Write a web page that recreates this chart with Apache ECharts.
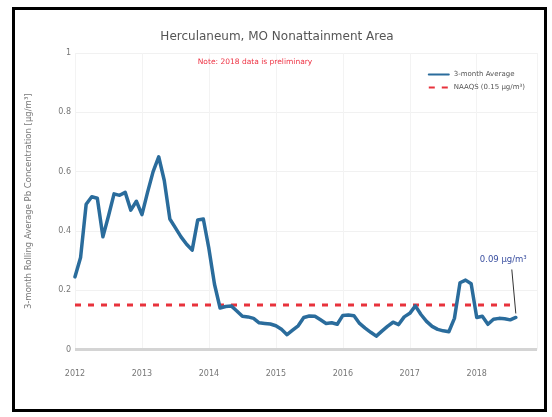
<!DOCTYPE html>
<html><head><meta charset="utf-8">
<script src="https://cdn.jsdelivr.net/npm/echarts@6/dist/echarts.min.js"></script>
<style>html,body{margin:0;padding:0;background:#fff}#c{width:552px;height:417px}</style>
</head><body><div id="c"></div>
<script>
// ---- data ----
const startYear = 2012;
const startMonth = 1; // January 2012, monthly points
const avgValues = [
  0.245,0.31,0.49,0.515,0.51,0.38,0.45,0.525,0.52,0.53,0.47,0.50,
  0.455,0.53,0.60,0.65,0.57,0.44,0.41,0.38,0.355,0.335,0.437,0.44,
  0.34,0.22,0.14,0.145,0.147,0.13,0.112,0.11,0.105,0.09,0.088,0.086,
  0.08,0.068,0.05,0.065,0.08,0.108,0.113,0.112,0.10,0.088,0.09,0.085,
  0.115,0.116,0.114,0.088,0.072,0.058,0.045,0.062,0.078,0.092,0.084,0.11,
  0.122,0.147,0.118,0.095,0.078,0.068,0.063,0.06,0.105,0.225,0.234,0.222,
  0.108,0.112,0.085,0.102,0.105,0.104,0.10,0.108
];
const naaqsValue = 0.15;
const yTicks = [0, 0.2, 0.4, 0.6, 0.8, 1];
const yearTicks = [2012, 2013, 2014, 2015, 2016, 2017, 2018];
const titleText = 'Herculaneum, MO Nonattainment Area';
const noteText = 'Note: 2018 data is preliminary';
const yName = '3-month Rolling Average Pb Concentration [\u00b5g/m\u00b3]';
const seriesNames = ['3-month Average', 'NAAQS (0.15 \u00b5g/m\u00b3)'];
const annotationText = '0.09 \u00b5g/m\u00b3';

// ---- build ----
const xs = avgValues.map((v, i) => startYear + (startMonth - 1 + i) / 12);
const avgData = avgValues.map((v, i) => [xs[i], v]);
const naaqsData = xs.map(x => [x, naaqsValue]);

const chart = echarts.init(document.getElementById('c'));
const font = 'DejaVu Sans';
chart.setOption({
  backgroundColor: '#fff',
  animation: false,
  textStyle: { fontFamily: font },
  title: [
    { text: titleText, left: 272, top: 26, textAlign: 'center',
      textStyle: { fontSize: 12, fontWeight: 'normal', color: '#555', fontFamily: font } },
    { text: noteText, left: 250, top: 53, textAlign: 'center',
      textStyle: { fontSize: 7.5, fontWeight: 'normal', color: '#ee3344', fontFamily: font } }
  ],
  legend: {
    right: 22, top: 66, orient: 'vertical', itemGap: 6, itemWidth: 20, itemHeight: 4,
    textStyle: { fontSize: 7, color: '#555', fontFamily: font },
    itemStyle: { opacity: 0 },
    data: seriesNames
  },
  grid: { left: 75, right: 15, top: 53, bottom: 67.5 },
  xAxis: {
    type: 'value', min: 2012, max: 2018.9, interval: 1,
    axisLine: { show: false }, axisTick: { show: false },
    splitLine: { show: true, lineStyle: { color: '#f3f3f3', width: 1 } },
    axisLabel: { fontSize: 8, color: '#777', margin: 20,
      formatter: v => yearTicks.includes(Math.round(v)) ? String(Math.round(v)) : '' , showMaxLabel: false }
  },
  yAxis: {
    type: 'value', min: 0, max: 1, interval: 0.2,
    name: yName, nameLocation: 'middle', nameGap: 42,
    nameTextStyle: { fontSize: 8.5, color: '#777', fontFamily: font },
    axisLine: { show: false }, axisTick: { show: false },
    splitLine: { show: true, lineStyle: { color: '#f1f1f1', width: 1 } },
    axisLabel: { fontSize: 8, color: '#777', margin: 4,
      formatter: v => { const t = yTicks.find(t => Math.abs(t - v) < 1e-6); return t === undefined ? '' : String(t); } }
  },
  series: [
    { name: seriesNames[0], type: 'line', data: avgData, showSymbol: false, symbol: 'none',
      z: 3, lineStyle: { color: '#2a6c9c', width: 3.5, join: 'round', cap: 'round' },
      itemStyle: { color: '#2a6c9c' },
      markLine: { silent: true, symbol: 'none', label: { show: false },
        lineStyle: { color: '#d4d4d4', width: 3, type: 'solid' },
        data: [{ yAxis: 0 }] } },
    { name: seriesNames[1], type: 'line', data: naaqsData, showSymbol: false, symbol: 'none',
      z: 2, lineStyle: { color: '#e8323c', width: 3, type: [6, 7] },
      itemStyle: { color: '#e8323c' } }
  ]
});

// annotation on last point + frame
const last = avgData[avgData.length - 1];
const p = chart.convertToPixel({ gridIndex: 0 }, last);
chart.setOption({
  graphic: [
    { type: 'rect', shape: { x: 13.5, y: 8.5, width: 532, height: 402 },
      style: { fill: 'none', stroke: '#000', lineWidth: 3 }, z: 100 },
    { type: 'line', shape: { x1: p[0] - 4, y1: p[1] - 48, x2: p[0], y2: p[1] - 4 },
      style: { stroke: '#333', lineWidth: 1 }, z: 50 },
    { type: 'text', left: p[0] - 36, top: p[1] - 62,
      style: { text: annotationText, fontSize: 8.5, fill: '#3a4fa0', fontFamily: font }, z: 50 }
  ]
});
</script></body></html>
